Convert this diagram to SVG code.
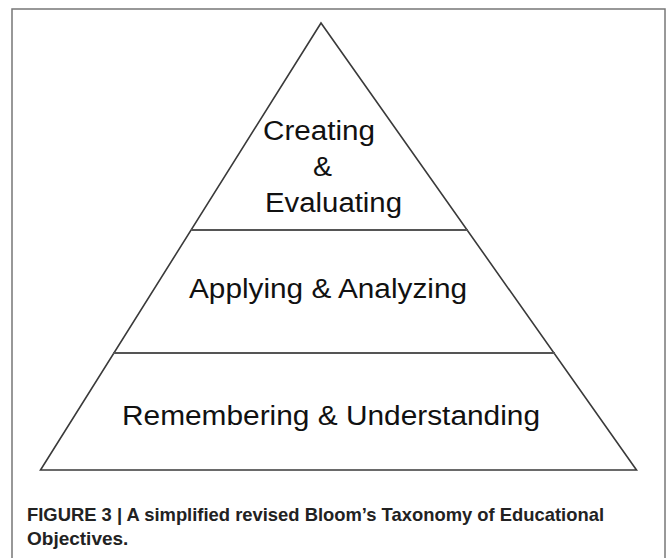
<svg xmlns="http://www.w3.org/2000/svg" width="668" height="558" viewBox="0 0 668 558">
<style>
.edge{stroke:#3a3a3a;stroke-width:1.6;fill:none;stroke-linejoin:miter}
.div{stroke:#555;stroke-width:2;fill:none}
.lbl{font-family:"Liberation Sans",Arial,sans-serif;font-size:27px;fill:#111}
.cap{font-family:"Liberation Sans",Arial,sans-serif;font-size:19px;font-weight:bold;fill:#222}
</style>
<rect x="12" y="9" width="653" height="560" fill="#fff" stroke="#777" stroke-width="1.5"/>
<g id="pyramid">
<polygon class="edge" points="321,23 40.5,470 636.5,470"/>
</g>
<g id="connectors">
<line class="div" x1="191" y1="230" x2="468" y2="230"/>
<line class="div" x1="113" y1="353" x2="555" y2="353"/>
</g>
<g id="top">
<text class="lbl" x="263" y="140" textLength="112" lengthAdjust="spacingAndGlyphs">Creating</text>
<text class="lbl" x="313" y="176" textLength="19" lengthAdjust="spacingAndGlyphs">&amp;</text>
<text class="lbl" x="265" y="212" textLength="137" lengthAdjust="spacingAndGlyphs">Evaluating</text>
</g>
<g id="middle">
<text class="lbl" x="189" y="298" textLength="278" lengthAdjust="spacingAndGlyphs">Applying &amp; Analyzing</text>
</g>
<g id="bottom">
<text class="lbl" x="122" y="425" textLength="418" lengthAdjust="spacingAndGlyphs">Remembering &amp; Understanding</text>
</g>
<g id="caption">
<text class="cap" x="27" y="521" textLength="577" lengthAdjust="spacingAndGlyphs">FIGURE 3 | A simplified revised Bloom’s Taxonomy of Educational</text>
<text class="cap" x="27" y="545">Objectives.</text>
</g>
</svg>
